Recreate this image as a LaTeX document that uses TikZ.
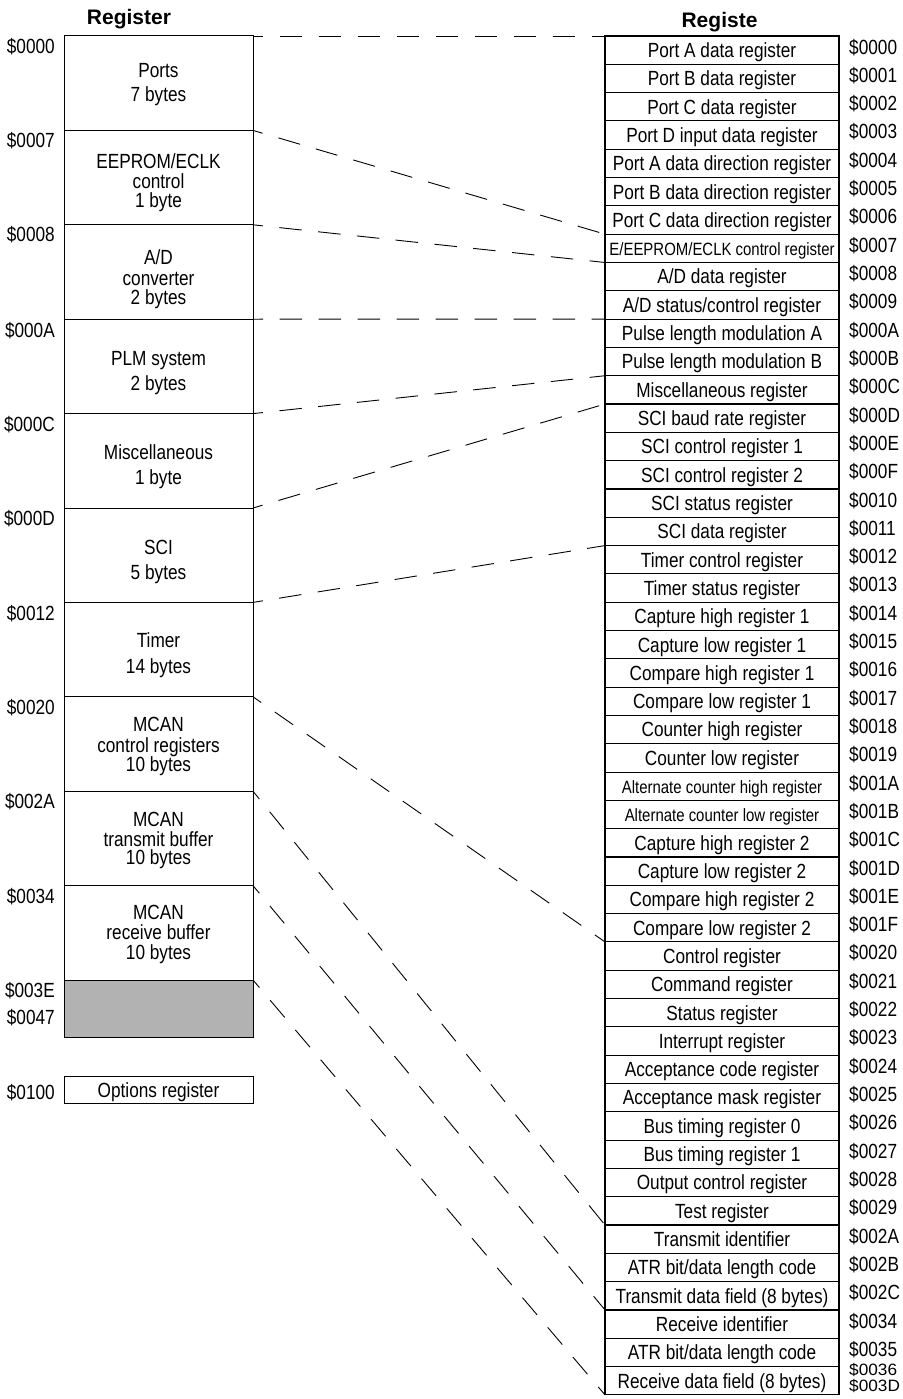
\documentclass[tikz,border=0pt]{standalone}
\usepackage{fontspec}
\setmainfont{Liberation Sans}[FakeStretch=0.84]
\newfontfamily\hdrfamily{Liberation Sans}
\newcommand\regfont{\fontsize{20.5}{24}\selectfont}
\newcommand\smallregfont{\fontsize{17.8}{20}\selectfont}
\newcommand\hdrfont{\hdrfamily\bfseries\fontsize{21}{24}\selectfont}
\begin{document}
\begin{tikzpicture}[x=1pt,y=-1pt,
  lblock/.style={draw=black, line width=1pt, minimum width=189pt, minimum height=94.4pt, inner sep=0pt, outer sep=0pt},
  rrow/.style={draw=black, line width=1.1pt, minimum width=234pt, minimum height=28.31pt, inner sep=0pt, outer sep=0pt, font=\regfont, text height=14.7pt, text depth=0pt},
  ltext/.style={inner sep=0pt, font=\regfont, text height=14.7pt, text depth=0pt},
  addr/.style={inner sep=0pt, font=\regfont, text height=14.7pt, text depth=0pt},
  hdr/.style={inner sep=0pt, font=\hdrfont, text height=15pt, text depth=0pt},
  conn/.style={draw=black, line width=0.9pt, dash pattern=on 22.5pt off 16.5pt, dash phase=12.5pt}]
\useasboundingbox (0,0) rectangle (902,1399);

% headers
\node[hdr] (H1) at (129,17.5) {Register};
\node[hdr] (H2) at (719.5,20) {Registe};

% left blocks
\foreach \i in {0,...,9}
  \node[lblock] (L\i) at (158.5,{36+94.4*\i+47.2}) {};
\node[lblock, fill=black!30, minimum height=57pt] (G) at (158.5,1008.5) {};
\node[lblock, minimum height=27pt, font=\regfont, text height=14.7pt, text depth=0pt] (O) at (158.5,1090) {Options register};

% left block texts
\foreach \y/\t [count=\k] in {
  70/Ports, 94.5/7 bytes,
  161/EEPROM\slash ECLK, 180.7/control, 200/1 byte,
  256.7/A\slash D, 278/converter, 297.5/2 bytes,
  358.3/PLM system, 383.3/2 bytes,
  452.3/Miscellaneous, 477.3/1 byte,
  547.3/SCI, 572.3/5 bytes,
  640/Timer, 665.8/14 bytes,
  724/MCAN, 745.5/control registers, 764/10 bytes,
  819/MCAN, 839/transmit buffer, 857.5/10 bytes,
  912.5/MCAN, 932.5/receive buffer, 952.5/10 bytes}
  \node[ltext] (T\k) at (158.5,\y) {\t};

% left addresses
\foreach \y/\l [count=\k] in {
  46/0000, 140/0007, 234/0008, 330/000A, 424/000C, 518/000D,
  613/0012, 707/0020, 801/002A, 896/0034, 990/003E, 1017/0047, 1092/0100}
  \node[addr, anchor=east] (LA\k) at (55,\y) {\$\l};

% right rows
\foreach \t [count=\i from 0] in {
  Port A data register, Port B data register, Port C data register,
  Port D input data register, Port A data direction register,
  Port B data direction register, Port C data direction register,
  {\smallregfont E/EEPROM/ECLK control register},
  A/D data register, A/D status/control register,
  Pulse length modulation A, Pulse length modulation B,
  Miscellaneous register, SCI baud rate register,
  SCI control register 1, SCI control register 2,
  SCI status register, SCI data register,
  Timer control register, Timer status register,
  Capture high register 1, Capture low register 1,
  Compare high register 1, Compare low register 1,
  Counter high register, Counter low register,
  {\smallregfont Alternate counter high register},
  {\smallregfont Alternate counter low register},
  Capture high register 2, Capture low register 2,
  Compare high register 2, Compare low register 2,
  Control register, Command register, Status register,
  Interrupt register, Acceptance code register,
  Acceptance mask register, Bus timing register 0,
  Bus timing register 1, Output control register,
  Test register, Transmit identifier,
  ATR bit/data length code, Transmit data field (8 bytes),
  Receive identifier, ATR bit/data length code,
  Receive data field (8 bytes)}
  \node[rrow] (R\i) at (722,{36+28.31*\i+14.155}) {\t};

% right addresses
\foreach \l [count=\i from 0] in {
  0000,0001,0002,0003,0004,0005,0006,0007,0008,0009,000A,000B,000C,000D,000E,000F,
  0010,0011,0012,0013,0014,0015,0016,0017,0018,0019,001A,001B,001C,001D,001E,001F,
  0020,0021,0022,0023,0024,0025,0026,0027,0028,0029,002A,002B,002C,0034,0035}
  \node[addr, anchor=west] (RA\i) at (849,{36+28.31*\i+10.7}) {\$\l};
\node[addr, anchor=west, text height=11.8pt] (RA47) at (849,1369.5) {\scalebox{1}[0.8]{\$0036}};
\node[addr, anchor=west, text height=11.8pt] (RA48) at (849,1386) {\scalebox{1}[0.8]{\$003D}};

% dashed connectors
\draw[conn] (L0.north east) -- (R0.north west);
\draw[conn] (L1.north east) -- (R7.north west);
\draw[conn] (L2.north east) -- (R8.north west);
\draw[conn] (L3.north east) -- (R10.north west);
\draw[conn] (L4.north east) -- (R12.north west);
\draw[conn] (L5.north east) -- (R13.north west);
\draw[conn] (L6.north east) -- (R18.north west);
\draw[conn] (L7.north east) -- (R32.north west);
\draw[conn] (L8.north east) -- (R42.north west);
\draw[conn] (L9.north east) -- (R45.north west);
\draw[conn] (G.north east) -- (R47.south west);
\end{tikzpicture}
\end{document}
